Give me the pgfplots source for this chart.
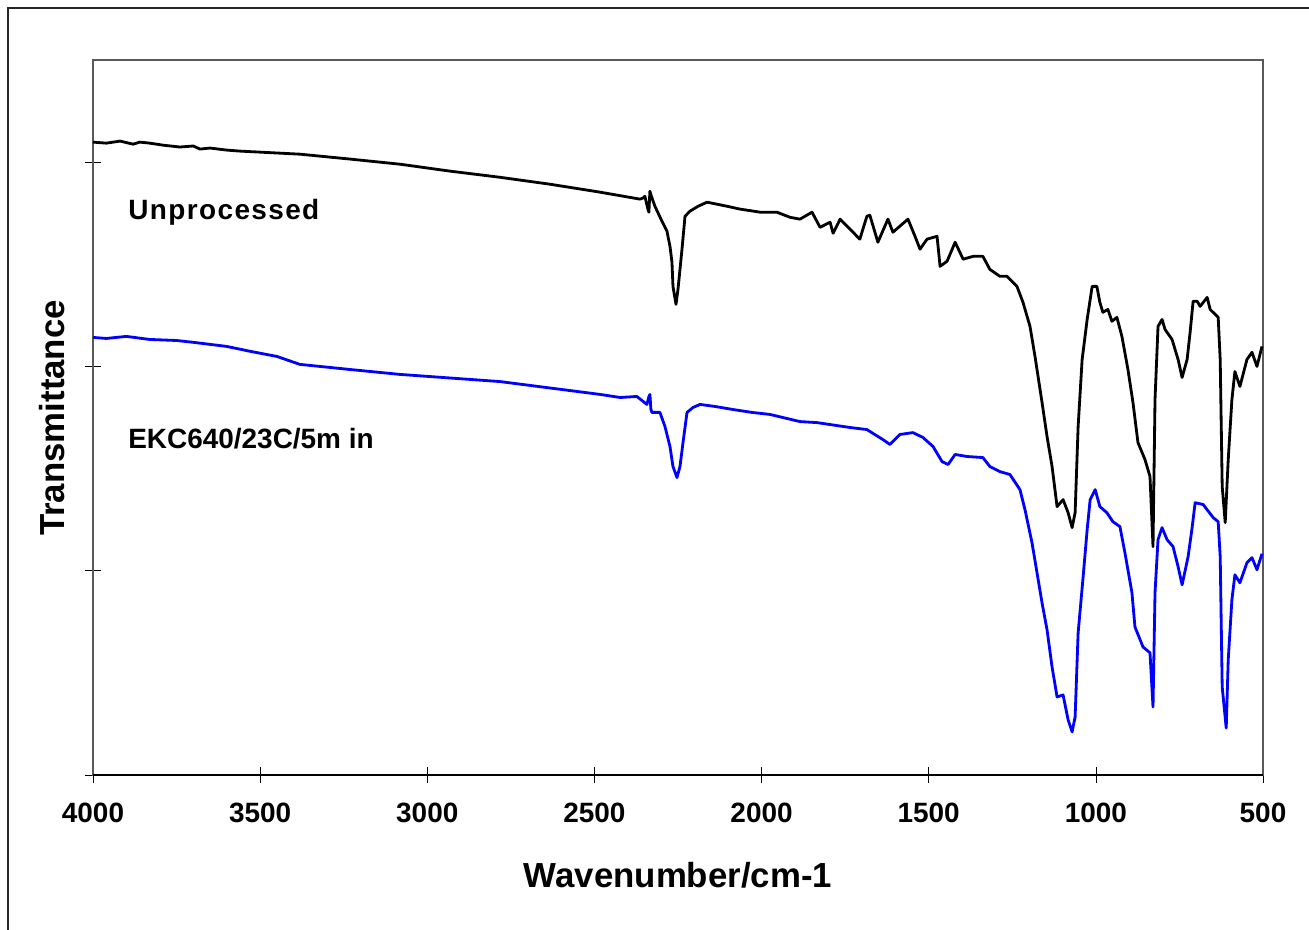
\documentclass[border=0pt]{standalone}
\usepackage{pgfplots}
\pgfplotsset{compat=1.18}
\usepackage{fontspec}
\setmainfont{Liberation Sans}
\pgfplotstableread{
wn t
4000 3.098
3960 3.093
3919 3.103
3880 3.088
3860 3.098
3830 3.093
3790 3.083
3740 3.074
3700 3.079
3680 3.064
3650 3.069
3600 3.059
3560 3.054
3500 3.049
3381 3.039
3231 3.015
3082 2.990
2932 2.956
2783 2.926
2633 2.892
2483 2.853
2364 2.819
2355 2.824
2349 2.833
2340 2.770
2337 2.755
2334 2.858
2331 2.840
2319 2.784
2298 2.711
2283 2.662
2274 2.588
2268 2.510
2265 2.392
2256 2.304
2250 2.377
2238 2.574
2229 2.735
2214 2.760
2190 2.784
2163 2.804
2103 2.784
2064 2.770
2004 2.755
1954 2.755
1915 2.730
1885 2.721
1849 2.755
1825 2.681
1795 2.706
1786 2.652
1765 2.721
1706 2.623
1685 2.735
1676 2.740
1652 2.608
1622 2.721
1607 2.657
1562 2.721
1541 2.637
1526 2.574
1505 2.623
1475 2.637
1466 2.490
1445 2.515
1421 2.608
1397 2.525
1367 2.539
1338 2.539
1317 2.475
1287 2.441
1266 2.441
1236 2.392
1218 2.314
1197 2.196
1182 2.049
1161 1.824
1146 1.657
1131 1.510
1116 1.314
1098 1.348
1083 1.284
1071 1.211
1062 1.284
1053 1.706
1041 2.034
1026 2.230
1011 2.392
997 2.392
988 2.314
979 2.265
964 2.279
952 2.221
937 2.240
922 2.147
904 1.985
889 1.824
874 1.627
853 1.544
838 1.461
829 1.118
823 1.838
814 2.196
802 2.230
793 2.181
772 2.132
754 2.034
742 1.946
727 2.034
718 2.167
709 2.319
697 2.319
688 2.294
667 2.338
658 2.279
634 2.240
628 2.034
622 1.412
613 1.235
604 1.544
593 1.838
584 1.975
569 1.902
548 2.034
533 2.069
518 2.000
503 2.098
}\unprocessed
\pgfplotstableread{
wn t
4000 2.142
3960 2.137
3900 2.147
3830 2.132
3750 2.127
3700 2.118
3650 2.108
3600 2.098
3530 2.074
3450 2.049
3381 2.010
3231 1.985
3082 1.961
2783 1.926
2483 1.863
2423 1.848
2373 1.853
2343 1.814
2337 1.853
2334 1.863
2331 1.790
2328 1.775
2304 1.775
2289 1.706
2274 1.608
2265 1.510
2253 1.456
2244 1.510
2235 1.627
2223 1.775
2205 1.799
2184 1.814
2139 1.804
2085 1.789
2029 1.775
1975 1.765
1885 1.730
1834 1.725
1735 1.701
1685 1.691
1637 1.642
1616 1.618
1586 1.667
1547 1.676
1517 1.652
1487 1.608
1460 1.534
1442 1.520
1421 1.569
1385 1.559
1338 1.554
1317 1.510
1287 1.485
1257 1.471
1227 1.397
1212 1.299
1191 1.137
1176 0.990
1161 0.843
1146 0.711
1131 0.529
1116 0.382
1098 0.392
1083 0.270
1071 0.211
1062 0.284
1053 0.696
1038 0.971
1026 1.201
1017 1.348
1002 1.397
988 1.314
967 1.284
949 1.240
928 1.216
913 1.088
892 0.892
883 0.725
859 0.627
838 0.598
829 0.333
823 0.892
814 1.152
802 1.211
787 1.152
769 1.118
754 1.020
742 0.931
724 1.069
712 1.211
703 1.333
679 1.324
649 1.260
634 1.240
628 1.069
622 0.431
610 0.230
604 0.564
593 0.858
584 0.980
569 0.941
548 1.039
533 1.064
518 1.005
503 1.083
}\ekc
\begin{document}
\begin{tikzpicture}
\useasboundingbox (-1.86,-3.08) rectangle (24.32,15.5);
\draw[line width=0.8pt, black!85] (-1.70,-3.2) -- (-1.70,15.34) -- (24.5,15.34);
\begin{axis}[
  at={(0,0)}, anchor=south west,
  scale only axis, width=23.4cm, height=14.3cm,
  x dir=reverse,
  xmin=500, xmax=4000, ymin=0, ymax=3.5,
  xtick={500,1000,...,4000},
  ytick={0,1,2,3}, yticklabels={},
  xtick pos=lower, ytick pos=left,
  tick align=center,
  major tick length=0.32cm,
  tick style={black, line width=0.4pt},
  axis line style={gray!70!black, line width=0.9pt},
  scaled x ticks=false,
  xticklabel style={/pgf/number format/1000 sep={}, /pgf/number format/assume math mode=true,
     font=\fontsize{15.9}{18}\selectfont\bfseries, yshift=-0.28cm},
  xlabel={Wavenumber/cm-1},
  ylabel={Transmittance},
  xlabel style={at={(axis description cs:0.5,-0.14)}, anchor=center, font=\fontsize{19.8}{22}\selectfont\bfseries},
  ylabel style={at={(axis description cs:-0.035,0.4993)}, anchor=center, rotate=0, font=\fontsize{19.8}{22}\selectfont\bfseries},
  clip=false,
]
\addplot[black, line width=1.6pt, line join=round] table[x=wn, y=t] {\unprocessed};
\addplot[blue, line width=1.6pt, line join=round] table[x=wn, y=t] {\ekc};
\draw[black, line width=1.3pt] (rel axis cs:0,0) -- (rel axis cs:1,0);
\node[anchor=west, inner sep=0pt, font=\fontsize{15.9}{18}\selectfont\bfseries\addfontfeatures{LetterSpace=5}] at (axis description cs:0.0299,0.787) {Unprocessed};
\node[anchor=west, inner sep=0pt, font=\fontsize{15.9}{18}\selectfont\bfseries] at (axis description cs:0.0299,0.471) {EKC640/23C/5m in};
\end{axis}
\end{tikzpicture}
\end{document}
